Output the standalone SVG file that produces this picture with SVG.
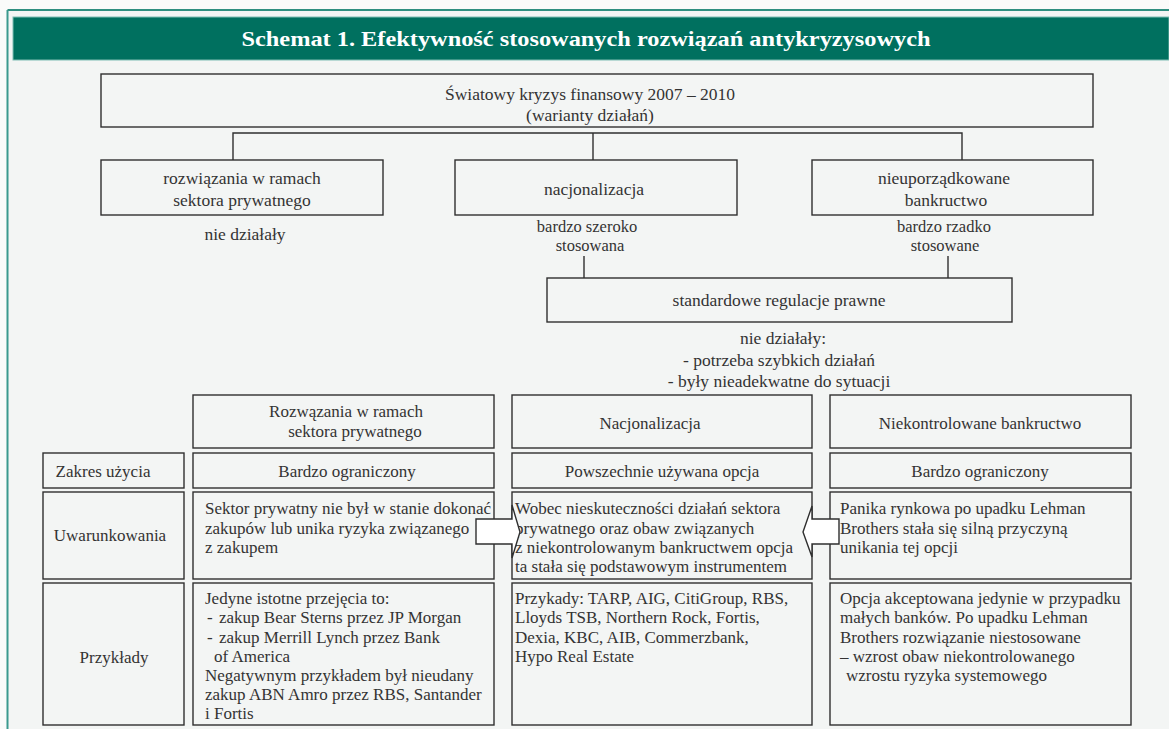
<svg xmlns="http://www.w3.org/2000/svg" width="1169" height="729" viewBox="0 0 1169 729" font-family="'Liberation Serif', 'Times New Roman', serif">
<style>
.bx{fill:none;stroke:#2f2f2f;stroke-width:1.4}
.ln{fill:none;stroke:#2f2f2f;stroke-width:1.4}
.t{font-size:17.5px;fill:#333}
.u{font-size:16.5px;fill:#333}
.s{font-size:17px;fill:#333}
.c{text-anchor:middle}
.ar{fill:#ffffff;stroke:#2f2f2f;stroke-width:1.4;stroke-linejoin:miter}
</style>
<rect x="0" y="0" width="1169" height="729" fill="#fafbfa"/>
<rect x="7" y="10" width="1162" height="719" fill="#f3f5f4"/>
<line x1="7.5" y1="10" x2="1169" y2="10" stroke="#2f8f80" stroke-width="1.8"/>
<line x1="7.5" y1="10" x2="7.5" y2="729" stroke="#3a9a8e" stroke-width="2"/>
<g id="header">
<rect x="13" y="17" width="1156" height="43" fill="#00705f" stroke="#7fbdb3" stroke-width="1"/>
<text x="586" y="46" text-anchor="middle" font-size="22" font-weight="bold" fill="#ffffff" textLength="689" lengthAdjust="spacingAndGlyphs">Schemat 1. Efektywność stosowanych rozwiązań antykryzysowych</text>
</g>

<g id="connectors">
<polyline class="ln" points="233,160 233,133 962,133 962,160"/>
<line class="ln" x1="593" y1="133" x2="593" y2="160"/>
<line class="ln" x1="584" y1="256" x2="584" y2="278"/>
<line class="ln" x1="948" y1="256" x2="948" y2="278"/>
</g>

<g id="n-kryzys">
<rect class="bx" x="101" y="74" width="992" height="53"/>
<text class="t c" x="590" y="100">Światowy kryzys finansowy 2007 – 2010</text>
<text class="t c" x="590" y="121">(warianty działań)</text>
</g>
<g id="n-prywatne">
<rect class="bx" x="101" y="160" width="282" height="55"/>
<text class="t c" x="242" y="184">rozwiązania w ramach</text>
<text class="t c" x="242" y="206">sektora prywatnego</text>
</g>
<g id="n-nacjonalizacja">
<rect class="bx" x="455" y="160" width="282" height="55"/>
<text class="t c" x="594" y="195">nacjonalizacja</text>
</g>
<g id="n-bankructwo">
<rect class="bx" x="812" y="160" width="281" height="55"/>
<text class="t c" x="944" y="184">nieuporządkowane</text>
<text class="t c" x="946" y="206">bankructwo</text>
</g>
<g id="l-prywatne">
<text class="t c" x="245" y="240">nie działały</text>
</g>
<g id="l-nacjonalizacja">
<text class="u c" x="587" y="232">bardzo szeroko</text>
<text class="u c" x="590" y="251">stosowana</text>
</g>
<g id="l-bankructwo">
<text class="u c" x="944" y="232">bardzo rzadko</text>
<text class="u c" x="945" y="251">stosowane</text>
</g>
<g id="n-regulacje">
<rect class="bx" x="547" y="278" width="465" height="44"/>
<text class="t c" x="779" y="306">standardowe regulacje prawne</text>
</g>
<g id="l-regulacje">
<text class="t c" x="783" y="344">nie działały:</text>
<text class="t c" x="779" y="366">- potrzeba szybkich działań</text>
<text class="t c" x="779" y="387">- były nieadekwatne do sytuacji</text>
</g>

<g id="table-head">
<rect class="bx" x="193" y="395" width="301" height="53"/>
<text class="s c" x="346" y="417">Rozwązania w ramach</text>
<text class="s c" x="355" y="437">sektora prywatnego</text>
<rect class="bx" x="512" y="395" width="300" height="53"/>
<text class="s c" x="650" y="429">Nacjonalizacja</text>
<rect class="bx" x="830" y="395" width="301" height="53"/>
<text class="s c" x="980" y="429">Niekontrolowane bankructwo</text>
</g>

<g id="row-zakres">
<rect class="bx" x="43" y="453" width="141" height="35"/>
<text class="s c" x="103" y="477">Zakres użycia</text>
<rect class="bx" x="193" y="453" width="301" height="35"/>
<text class="s c" x="347" y="477">Bardzo ograniczony</text>
<rect class="bx" x="512" y="453" width="300" height="35"/>
<text class="s c" x="662" y="477">Powszechnie używana opcja</text>
<rect class="bx" x="830" y="453" width="301" height="35"/>
<text class="s c" x="980" y="477">Bardzo ograniczony</text>
</g>

<g id="row-uwarunkowania">
<rect class="bx" x="43" y="492" width="141" height="87"/>
<text class="s c" x="110" y="541">Uwarunkowania</text>
<rect class="bx" x="193" y="492" width="301" height="87"/>
<text class="s" x="205" y="514">Sektor prywatny nie był w stanie dokonać</text>
<text class="s" x="205" y="533.5">zakupów lub unika ryzyka związanego</text>
<text class="s" x="205" y="553">z zakupem</text>
<rect class="bx" x="512" y="492" width="300" height="87"/>
<text class="s" x="515" y="514">Wobec nieskuteczności działań sektora</text>
<text class="s" x="515" y="533.5">prywatnego oraz obaw związanych</text>
<text class="s" x="515" y="553">z niekontrolowanym bankructwem opcja</text>
<text class="s" x="515" y="572">ta stała się podstawowym instrumentem</text>
<rect class="bx" x="830" y="492" width="301" height="87"/>
<text class="s" x="840" y="514">Panika rynkowa po upadku Lehman</text>
<text class="s" x="840" y="533.5">Brothers stała się silną przyczyną</text>
<text class="s" x="840" y="553">unikania tej opcji</text>
</g>

<g id="arrows">
<polygon class="ar" points="476,519 512,519 512,505 520,532 512,558 512,544 476,544"/>
<polygon class="ar" points="839,519 812,519 812,506 803,532 812,557 812,544 839,544"/>
</g>

<g id="row-przyklady">
<rect class="bx" x="43" y="583" width="141" height="142"/>
<text class="s c" x="114" y="663">Przykłady</text>
<rect class="bx" x="193" y="583" width="301" height="142"/>
<text class="s" x="205" y="604">Jedyne istotne przejęcia to:</text>
<text class="s" x="207" y="623">-</text>
<text class="s" x="219" y="623">zakup Bear Sterns przez JP Morgan</text>
<text class="s" x="207" y="642.5">-</text>
<text class="s" x="219" y="642.5">zakup Merrill Lynch przez Bank</text>
<text class="s" x="214" y="662">of America</text>
<text class="s" x="205" y="681">Negatywnym przykładem był nieudany</text>
<text class="s" x="205" y="700">zakup ABN Amro przez RBS, Santander</text>
<text class="s" x="205" y="719">i Fortis</text>
<rect class="bx" x="512" y="583" width="300" height="142"/>
<text class="s" x="515" y="604">Przykady: TARP, AIG, CitiGroup, RBS,</text>
<text class="s" x="515" y="623">Lloyds TSB, Northern Rock, Fortis,</text>
<text class="s" x="515" y="642.5">Dexia, KBC, AIB, Commerzbank,</text>
<text class="s" x="515" y="662">Hypo Real Estate</text>
<rect class="bx" x="830" y="583" width="301" height="142"/>
<text class="s" x="840" y="604">Opcja akceptowana jedynie w przypadku</text>
<text class="s" x="840" y="623">małych banków. Po upadku Lehman</text>
<text class="s" x="840" y="642.5">Brothers rozwiązanie niestosowane</text>
<text class="s" x="840" y="662">– wzrost obaw niekontrolowanego</text>
<text class="s" x="846" y="681">wzrostu ryzyka systemowego</text>
</g>
</svg>
